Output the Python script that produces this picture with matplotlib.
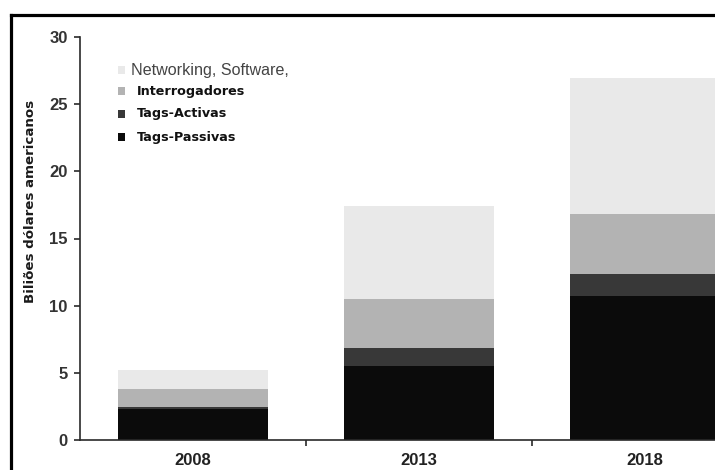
import matplotlib
matplotlib.use("Agg")
import matplotlib.pyplot as plt
from matplotlib.lines import Line2D
from matplotlib.patches import Rectangle
import numpy as np

# RFID market by segment (billions of US dollars)
years = ["2008", "2013", "2018"]
series_names = ["Tags-Passivas", "Tags-Activas", "Interrogadores", "Networking, Software,"]
tags_passivas = [2.3, 5.52, 10.72]
tags_activas = [0.13, 1.34, 1.65]
interrogadores = [1.36, 3.61, 4.48]
networking_software = [1.41, 6.98, 10.12]
yticks = [0, 5, 10, 15, 20, 25, 30]

colors = ["#0b0b0b", "#383838", "#b3b3b3", "#e9e9e9"]

W, H = 715, 470
fig = plt.figure(figsize=(W / 100, H / 100), dpi=100)
fig.patch.set_facecolor("white")

ax_left, ax_bottom = 80 / W, (H - 440) / H
ax_top = (H - 37) / H
ax = fig.add_axes([ax_left, ax_bottom, 1.0 - ax_left, ax_top - ax_bottom])

x = np.arange(len(years))
bottom = np.zeros(len(years))
for vals, c in zip([tags_passivas, tags_activas, interrogadores, networking_software], colors):
    ax.bar(x, vals, width=0.664, bottom=bottom, color=c, edgecolor="none", zorder=2)
    bottom += np.array(vals)

ax.set_xlim(-0.5, -0.5 + (W - 80) / 226)
ax.set_ylim(0, 30)

for s in ["top", "right"]:
    ax.spines[s].set_visible(False)
for s in ["left", "bottom"]:
    ax.spines[s].set_color("#2a2a2a")
    ax.spines[s].set_linewidth(1.2)

ax.set_yticks(yticks)
ax.set_yticklabels([str(v) for v in yticks], fontfamily="Liberation Sans",
                   fontweight="bold", fontsize=12, color="#333333")
ax.tick_params(axis="y", direction="out", length=4, width=1.2, color="#2a2a2a", pad=5)

ax.set_xticks(x)
ax.set_xticklabels(years, fontfamily="Liberation Sans", fontweight="bold",
                   fontsize=12, color="#222222")
ax.tick_params(axis="x", which="major", length=0, pad=9.5)
ax.set_xticks(x[:-1] + 0.5, minor=True)
ax.tick_params(axis="x", which="minor", direction="out", length=4, width=1.2, color="#2a2a2a")

fig.text(31 / W, 1 - 201 / H, "Biliões dólares americanos", rotation=90,
         ha="center", va="center", fontfamily="DejaVu Sans", fontweight="bold",
         fontsize=9.6, color="#1a1a1a")

# legend, drawn top entry first
legend_rows = [(3, 70), (2, 91), (1, 114), (0, 137)]
for idx, ypx in legend_rows:
    fig.add_artist(Rectangle((118 / W, 1 - (ypx + 4) / H), 7 / W, 8 / H,
                             transform=fig.transFigure, facecolor=colors[idx],
                             edgecolor="none"))
    if idx == 3:
        fig.text(131 / W, 1 - ypx / H, series_names[idx], ha="left", va="center",
                 fontfamily="Liberation Sans", fontsize=11.6, color="#444444")
    else:
        fig.text(137 / W, 1 - ypx / H, series_names[idx], ha="left", va="center",
                 fontfamily="DejaVu Sans", fontweight="bold", fontsize=9.2,
                 color="#111111")

# outer frame
fig.add_artist(Line2D([11.5 / W, 11.5 / W], [0, 1 - 15 / H], transform=fig.transFigure,
                      color="black", linewidth=2.3, solid_capstyle="projecting"))
fig.add_artist(Line2D([11.5 / W, 1], [1 - 15 / H, 1 - 15 / H], transform=fig.transFigure,
                      color="black", linewidth=2.3, solid_capstyle="projecting"))

fig.savefig("out.png", dpi=100)
